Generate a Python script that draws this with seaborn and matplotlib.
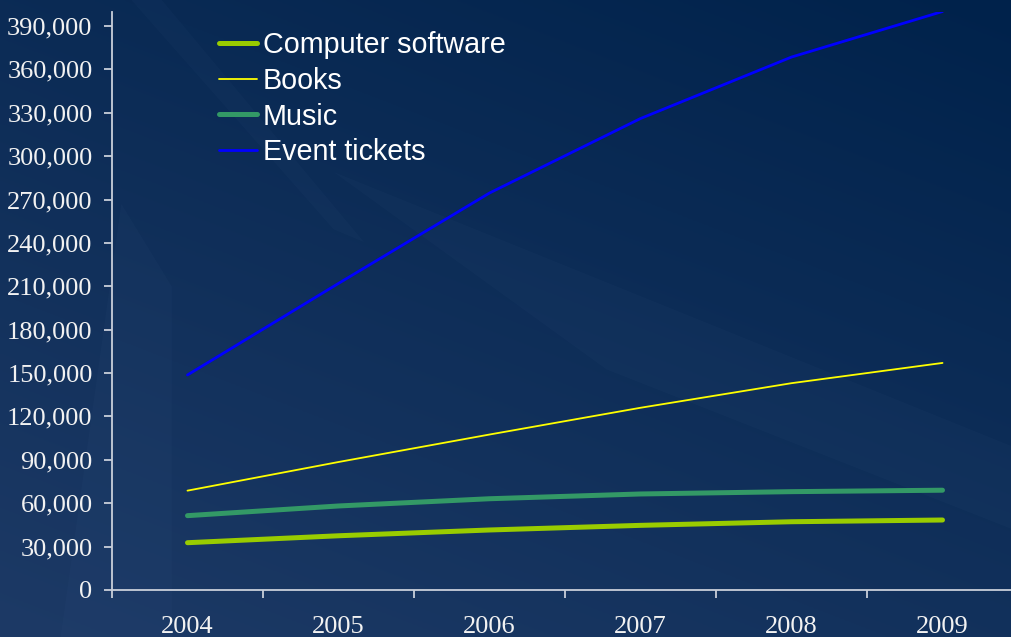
import numpy as np
import pandas as pd
import matplotlib
matplotlib.use("Agg")
import matplotlib.pyplot as plt
from matplotlib.patches import Polygon
import seaborn as sns

years = ["2004", "2005", "2006", "2007", "2008", "2009"]
software = [32700, 37500, 41500, 44700, 47200, 48400]
books = [68700, 88500, 107500, 126000, 143000, 157000]
music = [51400, 58100, 63100, 66400, 68000, 69000]
tickets = [148700, 212000, 274500, 326000, 368500, 400000]

series_names = ["Computer software", "Books", "Music", "Event tickets"]
series_values = [software, books, music, tickets]
palette = {"Computer software": "#99CC00", "Books": "#FFFF00",
           "Music": "#339966", "Event tickets": "#0000FF"}
widths = {"Computer software": 3.6, "Books": 1.3, "Music": 3.6, "Event tickets": 2.0}

rows = []
for name, vals in zip(series_names, series_values):
    for y, v in zip(years, vals):
        rows.append({"year": y, "value": v, "series": name})
df = pd.DataFrame(rows)

sns.set_theme(style="white")
plt.rcParams["font.family"] = ["Liberation Serif", "DejaVu Serif"]

fig = plt.figure(figsize=(10.11, 6.37), dpi=100)

# navy gradient backdrop with soft light streaks
bg = fig.add_axes([0, 0, 1, 1], zorder=-10)
H, W = 320, 500
yy, xx = np.mgrid[0:1:H * 1j, 0:1:W * 1j]
t = np.clip(0.62 * yy + 0.38 * (1 - xx), 0, 1)  # 0 at top-right, 1 at bottom-left
c0 = np.array([0x00, 0x22, 0x4B]) / 255
c1 = np.array([0x1D, 0x3A, 0x66]) / 255
img = c0[None, None, :] * (1 - t[..., None]) + c1[None, None, :] * t[..., None]
bg.imshow(img, extent=[0, 1, 0, 1], aspect="auto", origin="upper")
streaks = [
    [(0.33, 0.73), (1.0, 0.30), (1.0, 0.17), (0.60, 0.42)],
    [(0.13, 1.0), (0.16, 1.0), (0.36, 0.62), (0.33, 0.64)],
    [(0.06, 0.0), (0.17, 0.0), (0.17, 0.55), (0.12, 0.68)],
]
for pts in streaks:
    bg.add_patch(Polygon(pts, closed=True, facecolor="#4a6a98", alpha=0.06,
                         edgecolor="none"))
bg.set_xlim(0, 1)
bg.set_ylim(0, 1)
bg.axis("off")

ax = fig.add_axes([112 / 1011, 1 - 590 / 637, 906 / 1011, (590 - 11.5) / 637])
ax.set_facecolor("none")

sns.lineplot(data=df, x="year", y="value", hue="series", size="series",
             hue_order=series_names, size_order=series_names,
             palette=palette, sizes=widths, sort=False, ax=ax, legend=True)
for line in ax.get_lines():
    line.set_solid_capstyle("round")

ax.set_xlim(-0.5, len(years) - 0.5)
ax.set_ylim(0, 400000)
ax.set_yticks(np.arange(0, 390001, 30000))
ax.yaxis.set_major_formatter(matplotlib.ticker.FuncFormatter(lambda v, p: f"{int(v):,}"))
ax.set_xticks(range(len(years)))
ax.set_xticklabels(years)
ax.set_xticks(np.arange(-0.5, len(years) + 0.5, 1), minor=True)
ax.set_xlabel("")
ax.set_ylabel("")

axis_col = "#C9CFDA"
for side in ["top", "right"]:
    ax.spines[side].set_visible(False)
for side in ["left", "bottom"]:
    ax.spines[side].set_color(axis_col)
    ax.spines[side].set_linewidth(1.3)

ax.tick_params(axis="y", which="major", length=6, width=1.3, color=axis_col,
               direction="out", left=True, pad=8, labelsize=19, labelcolor="#F2F2F2")
ax.tick_params(axis="x", which="major", length=0, pad=19, labelsize=19,
               labelcolor="#F2F2F2", bottom=True)
ax.tick_params(axis="x", which="minor", length=6, width=1.3, color=axis_col,
               direction="out", bottom=True)

handles, labels = ax.get_legend_handles_labels()
for h in handles:
    h.set_solid_capstyle("round")
leg = ax.legend(handles, labels, loc="upper left",
                bbox_to_anchor=(219 / 1011, 1 - 31 / 637),
                bbox_transform=fig.transFigure, frameon=False,
                prop={"family": "Liberation Sans", "size": 20.7},
                handlelength=1.32, handletextpad=0.21, labelspacing=0.27,
                borderpad=0, borderaxespad=0)
for txt in leg.get_texts():
    txt.set_color("#FFFFFF")

fig.savefig("out.png", dpi=100)
